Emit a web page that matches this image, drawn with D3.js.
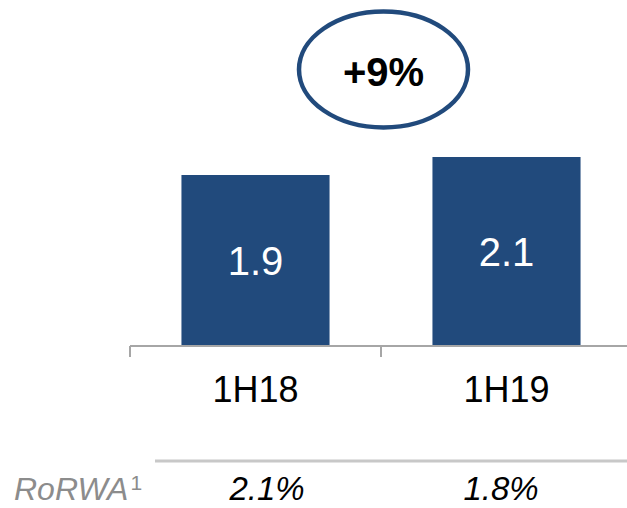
<!DOCTYPE html>
<html>
<head>
<meta charset="utf-8">
<script src="https://cdn.jsdelivr.net/npm/d3@7"></script>
<style>
  body { margin: 0; background: #fff; }
  text { font-family: "Liberation Sans", Arial, sans-serif; }
</style>
</head>
<body>
<div id="container"></div>
<script>
/* CONSTANTS AND GLOBALS */
const width = 627,
  height = 508,
  margin = { top: 157, bottom: 162, left: 130, right: -5 };

const barColor = "#214a7c";

// chart data
const categories = ["1H18", "1H19"];
const values = [1.9, 2.1];
const rorwa = ["2.1%", "1.8%"];
const growthLabel = "+9%";

let svg, xScale, yScale, tableScale;

init();

function init() {
  const baseline = height - margin.bottom;

  // + SCALES
  xScale = d3.scaleBand()
    .domain(categories)
    .range([margin.left, width - margin.right]);

  yScale = d3.scaleLinear()
    .domain([0, d3.max(values)])
    .range([baseline, margin.top]);

  // the RoRWA row sits on its own columns
  tableScale = d3.scaleBand()
    .domain(categories)
    .range([150, 618]);

  svg = d3.select("#container")
    .append("svg")
    .attr("width", width)
    .attr("height", height);

  const barW = xScale.bandwidth() * 0.59;

  // + BARS
  svg.selectAll("rect.bar")
    .data(values)
    .join("rect")
    .attr("class", "bar")
    .attr("x", (d, i) => xScale(categories[i]) + (xScale.bandwidth() - barW) / 2)
    .attr("y", d => yScale(d))
    .attr("width", barW)
    .attr("height", d => baseline - yScale(d))
    .attr("fill", barColor);

  // value labels inside bars
  svg.selectAll("text.val")
    .data(values)
    .join("text")
    .attr("class", "val")
    .attr("x", (d, i) => xScale(categories[i]) + xScale.bandwidth() / 2)
    .attr("y", d => (yScale(d) + baseline) / 2)
    .attr("dy", "0.36em")
    .attr("text-anchor", "middle")
    .attr("fill", "#fff")
    .style("font-size", "40px")
    .text(d => d.toFixed(1));

  // + AXIS
  const xAxis = d3.axisBottom(xScale)
    .tickSize(0)
    .tickPadding(30);

  const xAxisGroup = svg.append("g")
    .attr("class", "xAxis")
    .attr("transform", `translate(0, ${baseline})`)
    .call(xAxis);

  xAxisGroup.select(".domain")
    .attr("stroke", "#a6a6a6")
    .attr("stroke-width", 2)
    .attr("d", `M${margin.left},0H${width + 5}`);

  xAxisGroup.selectAll(".tick text")
    .attr("fill", "#000")
    .style("font-size", "36px")
    .style("font-family", "Liberation Sans, Arial, sans-serif");

  // band boundary ticks
  xAxisGroup.selectAll("line.sep")
    .data(categories)
    .join("line")
    .attr("class", "sep")
    .attr("x1", d => xScale(d))
    .attr("x2", d => xScale(d))
    .attr("y1", 0)
    .attr("y2", 11)
    .attr("stroke", "#a6a6a6")
    .attr("stroke-width", 2);

  // + GROWTH BUBBLE
  const cx = (xScale(categories[0]) + xScale(categories[1]) + xScale.bandwidth()) / 2 + 2.5;
  svg.append("ellipse")
    .attr("cx", cx)
    .attr("cy", 69.5)
    .attr("rx", 84.5)
    .attr("ry", 58)
    .attr("fill", "#fff")
    .attr("stroke", barColor)
    .attr("stroke-width", 4.5);

  svg.append("text")
    .attr("x", cx)
    .attr("y", 86)
    .attr("text-anchor", "middle")
    .style("font-size", "40px")
    .style("font-weight", "bold")
    .text(growthLabel);

  // + RoRWA ROW
  svg.append("line")
    .attr("x1", 155)
    .attr("x2", width)
    .attr("y1", 461)
    .attr("y2", 461)
    .attr("stroke", "#c8c8c8")
    .attr("stroke-width", 3);

  const rLabel = svg.append("text")
    .attr("x", 14)
    .attr("y", 500)
    .attr("fill", "#8c8c8c")
    .style("font-size", "32px")
    .style("font-style", "italic")
    .text("RoRWA");
  rLabel.append("tspan")
    .attr("dx", 2)
    .attr("dy", -10)
    .style("font-size", "21px")
    .style("font-style", "normal")
    .text("1");

  svg.selectAll("text.rorwa")
    .data(rorwa)
    .join("text")
    .attr("class", "rorwa")
    .attr("x", (d, i) => tableScale(categories[i]) + tableScale.bandwidth() / 2)
    .attr("y", 500)
    .attr("text-anchor", "middle")
    .style("font-size", "33px")
    .style("font-style", "italic")
    .text(d => d);
}
</script>
</body>
</html>
